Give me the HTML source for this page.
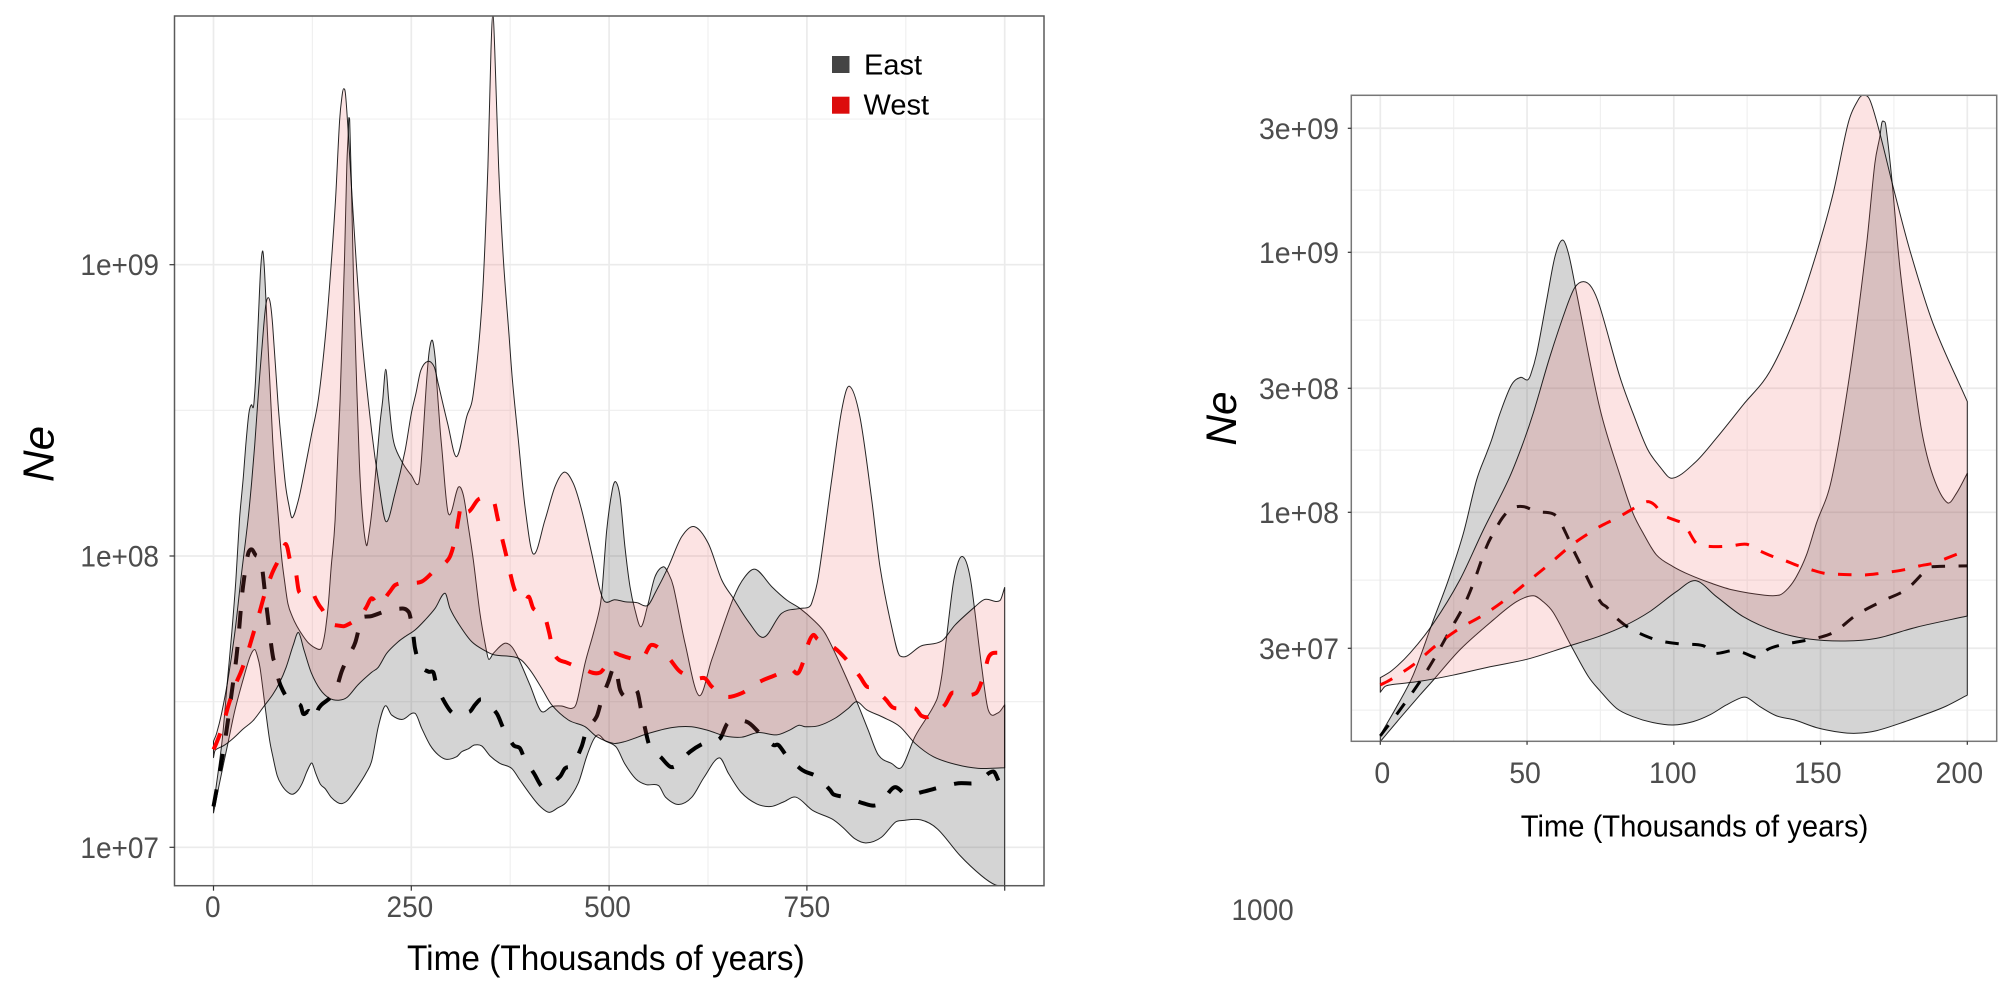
<!DOCTYPE html>
<html lang="en">
<head>
<meta charset="utf-8">
<title>Effective population size over time, East and West</title>
<style>
html,body{margin:0;padding:0;background:#fff;width:2008px;height:997px;overflow:hidden}
svg{display:block;font-family:"Liberation Sans",Arial,sans-serif}
</style>
</head>
<body>
<svg id="chart" width="2008" height="997" viewBox="0 0 2008 997" xmlns="http://www.w3.org/2000/svg">
<rect x="0" y="0" width="2008" height="997" fill="#fff"/>
<text transform="translate(1231.5,920) scale(1,1.05)" font-size="28" fill="#4d4d4d">1000</text>
</svg>
<script>
// Every pair is [time in thousands of years, log10(Ne)].
const eastUpper = [[0,7.144],[5.6,7.253],[11.2,7.374],[18.1,7.586],[23.2,7.74],[28.3,7.919],[32.8,8.124],[36.2,8.227],[37.9,8.278],[40.8,8.381],[44.7,8.49],[47.8,8.519],[50.1,8.509],[51.2,8.528],[53.3,8.612],[56.7,8.817],[59.5,8.983],[62,9.047],[64.1,8.996],[66.9,8.842],[74.8,8.4],[82.2,8.124],[86.1,7.996],[89.6,7.919],[94.1,7.836],[99.8,7.791],[105.5,7.759],[112.8,7.727],[120.2,7.701],[130.4,7.682],[136.1,7.682],[139,7.708],[141.8,7.753],[145.2,7.836],[148.6,7.958],[153.7,8.124],[160,8.535],[165.6,9.022],[168.5,9.342],[170.2,9.445],[170.9,9.499],[171.6,9.503],[172.2,9.49],[174.2,9.291],[177,8.945],[180.4,8.637],[184.4,8.317],[188.4,8.137],[193.2,8.037],[196.3,8.073],[200,8.15],[204.1,8.261],[210.4,8.455],[213.8,8.534],[217.7,8.641],[221.5,8.534],[225.9,8.42],[230,8.37],[240,8.315],[250,8.277],[258.9,8.247],[262.5,8.32],[269.4,8.604],[272.8,8.706],[276.7,8.74],[280.5,8.672],[282,8.6],[286.3,8.44],[288.4,8.375],[296.8,8.146],[309.4,8.236],[315.8,8.209],[322.1,8.101],[328.4,7.986],[336.8,7.803],[345.2,7.672],[348,7.645],[353.7,7.666],[367.6,7.7],[376.8,7.689],[385.3,7.649],[400,7.557],[413.9,7.468],[427.4,7.483],[440,7.485],[452.7,7.477],[459,7.497],[469.6,7.632],[480.2,7.735],[488.5,7.826],[491.5,7.895],[497,8.089],[504,8.227],[508.3,8.255],[513.8,8.204],[520,8.032],[526.4,7.895],[532.7,7.815],[540.3,7.757],[548.7,7.83],[558,7.929],[568.6,7.963],[574.9,7.941],[581.3,7.895],[596,7.7],[613.6,7.521],[629.6,7.643],[657,7.855],[671.7,7.929],[685.3,7.954],[705.5,7.895],[724.4,7.849],[741.3,7.82],[760.3,7.775],[772.9,7.735],[789.7,7.643],[813,7.5],[827.4,7.403],[840.3,7.317],[857,7.288],[869.8,7.275],[886.6,7.38],[914,7.506],[920.3,7.586],[926.6,7.723],[935,7.906],[941.4,7.981],[946.9,7.998],[952.7,7.969],[958.2,7.895],[970.9,7.62],[979.3,7.471],[991.9,7.462],[1000,7.489]];
const eastLower = [[0,7.118],[6.7,7.208],[13.5,7.297],[18.1,7.355],[27.1,7.471],[38.5,7.586],[46.4,7.656],[52.1,7.679],[55.5,7.656],[58.9,7.615],[65.2,7.483],[70.9,7.368],[74.8,7.314],[80.5,7.246],[86.1,7.214],[93,7.191],[99.8,7.182],[106.6,7.195],[112.3,7.221],[117.9,7.259],[123,7.287],[125,7.287],[129.3,7.253],[135,7.217],[141.2,7.201],[148.6,7.172],[156.6,7.154],[162.2,7.15],[169,7.16],[177,7.188],[186.7,7.227],[192.9,7.255],[200,7.297],[208.3,7.414],[216.8,7.485],[225.2,7.454],[238.7,7.439],[254.7,7.46],[263.1,7.409],[273.7,7.351],[284.2,7.317],[294.7,7.302],[307.3,7.311],[313.7,7.328],[322.1,7.338],[329.7,7.351],[339,7.348],[349.5,7.314],[362.1,7.288],[376.8,7.271],[387.3,7.231],[402.4,7.174],[413,7.14],[424.2,7.12],[435,7.135],[446,7.155],[461,7.22],[471.6,7.311],[480.2,7.369],[486.5,7.386],[494.8,7.366],[509,7.344],[520,7.286],[533.7,7.235],[547,7.215],[562.5,7.212],[571.4,7.172],[587.8,7.147],[604.6,7.172],[620,7.24],[639.2,7.307],[651.2,7.252],[666.7,7.189],[686.6,7.149],[704.4,7.14],[720,7.155],[736.3,7.172],[757.6,7.126],[782,7.097],[795.2,7.069],[810.8,7.029],[825.4,7.015],[844,7.034],[861.7,7.086],[870.6,7.092],[894,7.094],[915,7.063],[943.8,6.971],[970.4,6.903],[988,6.871],[1000,6.868]];
const eastMean = [[0,7.14],[6.7,7.24],[13.5,7.349],[18.1,7.432],[23.2,7.535],[28.3,7.637],[31.7,7.727],[36.2,7.868],[39.1,7.932],[41.9,7.983],[44.7,8.015],[48.7,8.022],[53.3,8.003],[58.4,7.996],[60.6,7.977],[63.5,7.913],[65.8,7.855],[69.2,7.778],[72.6,7.701],[75.4,7.65],[77,7.637],[79.9,7.599],[85,7.554],[94.1,7.509],[102,7.494],[110,7.487],[113.4,7.458],[120.2,7.468],[123.6,7.46],[128.7,7.442],[132.1,7.473],[136.7,7.49],[142.9,7.503],[149.7,7.519],[154.9,7.541],[162.2,7.605],[171.3,7.66],[179.3,7.704],[186.7,7.785],[188.9,7.791],[200,7.794],[219,7.812],[233,7.819],[246.7,7.808],[251.5,7.75],[254.7,7.683],[261,7.626],[271.5,7.603],[278,7.6],[280.8,7.569],[290.5,7.506],[303,7.46],[324,7.466],[330.5,7.489],[338.9,7.508],[357.9,7.46],[366.3,7.409],[379,7.351],[387.3,7.34],[392.9,7.306],[405,7.254],[416.9,7.206],[438,7.243],[444.3,7.271],[454,7.283],[465.3,7.346],[471.6,7.403],[484.3,7.449],[490.6,7.506],[499,7.568],[507.5,7.62],[514,7.54],[522.2,7.517],[528.5,7.54],[535.7,7.534],[540.3,7.474],[545.4,7.409],[550.9,7.351],[566.5,7.306],[577,7.277],[584.2,7.28],[602.3,7.328],[621.2,7.359],[640.2,7.374],[650,7.426],[673.9,7.431],[690.8,7.391],[707.6,7.351],[714,7.351],[724.4,7.314],[741.3,7.271],[747.6,7.26],[762.3,7.243],[779.2,7.197],[783.4,7.182],[798,7.172],[821.4,7.151],[834,7.143],[843.7,7.153],[860.5,7.206],[876.2,7.18],[897.2,7.191],[918.4,7.206],[941.6,7.22],[964.7,7.222],[985.6,7.26],[994.1,7.22],[1000,7.22]];
const westUpper = [[0,7.364],[3.9,7.391],[10.1,7.458],[18.1,7.573],[27.1,7.74],[35.1,7.932],[43.6,8.124],[48.2,8.253],[52.1,8.381],[57.8,8.599],[63.5,8.791],[66.3,8.865],[69.2,8.887],[72,8.865],[74.8,8.791],[81.6,8.522],[86.1,8.381],[91,8.244],[95.2,8.176],[99.4,8.131],[107.2,8.191],[114.5,8.285],[123.6,8.413],[132.7,8.541],[141.8,8.765],[148.6,8.996],[154.3,9.227],[159.4,9.496],[162.8,9.586],[164.5,9.604],[166.8,9.586],[170.2,9.458],[174.7,9.253],[180.4,9.009],[188.3,8.727],[200,8.426],[209,8.248],[218,8.118],[229.4,8.215],[242,8.36],[250,8.489],[256,8.56],[262,8.637],[270.9,8.668],[279,8.649],[284,8.592],[296,8.454],[307.3,8.341],[320,8.478],[328.4,8.558],[339.6,8.878],[346.8,9.335],[350.7,9.736],[353.1,9.86],[355.5,9.736],[360.4,9.335],[366.2,9.026],[373.4,8.763],[377.8,8.604],[385.3,8.398],[393.7,8.169],[404.2,8.007],[419,8.124],[431.6,8.238],[443.4,8.288],[454.8,8.249],[465.3,8.158],[478,8.009],[488.5,7.883],[494.8,7.843],[507,7.85],[520,7.843],[535,7.84],[548.7,7.83],[558,7.872],[574.9,7.963],[591.7,8.066],[607.7,8.101],[625.4,8.043],[642.3,7.918],[657,7.855],[676,7.775],[695.4,7.721],[718,7.803],[741.3,7.82],[751.8,7.824],[756,7.838],[764.5,7.929],[781.3,8.261],[794,8.501],[803.6,8.583],[817,8.478],[832,8.192],[842.4,7.963],[857.1,7.757],[867.7,7.657],[895,7.692],[920.3,7.708],[937.2,7.763],[962.5,7.826],[975,7.851],[994,7.847],[1000,7.892]];
const westLower = [[0,7.308],[1.6,7.33],[3.9,7.337],[13.5,7.35],[24.9,7.374],[37.4,7.406],[50.1,7.435],[63.5,7.483],[74.8,7.524],[83.3,7.564],[91.8,7.618],[100.9,7.695],[107.4,7.737],[114.5,7.676],[123.6,7.599],[135,7.541],[146.3,7.512],[158.3,7.505],[169,7.515],[182.7,7.558],[200,7.601],[208.3,7.618],[218.9,7.666],[233.6,7.706],[242,7.723],[254.7,7.746],[267.3,7.78],[280,7.82],[292.6,7.872],[298.9,7.82],[309.4,7.769],[326.3,7.706],[345.2,7.672],[355.8,7.66],[385.3,7.649],[400,7.609],[414.8,7.546],[427.4,7.489],[448.5,7.437],[469.6,7.414],[484.3,7.38],[505.4,7.357],[520,7.363],[549.6,7.391],[579,7.411],[604.3,7.414],[625.4,7.401],[646.5,7.382],[667.5,7.378],[688.7,7.394],[711.8,7.386],[728.7,7.403],[740,7.419],[747.6,7.414],[764.5,7.417],[785.6,7.443],[802.4,7.477],[813,7.5],[825.6,7.472],[846.6,7.446],[867.7,7.414],[886.6,7.357],[909.8,7.311],[937.2,7.285],[966.6,7.271],[1000,7.273]];
const westMean = [[0,7.336],[3.3,7.355],[11.2,7.413],[19.2,7.49],[27.1,7.554],[35.1,7.605],[42.5,7.663],[49.9,7.73],[57.2,7.797],[65.2,7.874],[73.7,7.938],[77,7.958],[80.5,7.977],[89,8.032],[91.3,8.041],[93.5,8.028],[96.4,7.99],[100.9,7.968],[103,7.958],[104.5,7.938],[107.2,7.887],[108.9,7.874],[113.4,7.868],[119.6,7.871],[124.8,7.877],[128.7,7.855],[133.3,7.832],[137.3,7.817],[142.4,7.794],[146.3,7.781],[151.4,7.765],[155.4,7.762],[160.5,7.76],[165.1,7.759],[170.2,7.765],[174.7,7.772],[179.3,7.781],[183.8,7.794],[188.4,7.804],[192.9,7.823],[200,7.855],[208.3,7.832],[223,7.878],[229.4,7.9],[240.8,7.908],[263,7.912],[280.7,7.954],[297.7,7.992],[305.2,8.055],[309.4,8.124],[313.6,8.178],[322.1,8.152],[335.6,8.196],[353.7,8.19],[359.2,8.129],[364.3,8.066],[369.9,8.003],[375,7.941],[381.1,7.881],[393.7,7.843],[398.7,7.86],[404.2,7.82],[417.7,7.798],[424,7.74],[429.5,7.672],[435.9,7.645],[445.5,7.635],[465.3,7.614],[488.5,7.6],[505.4,7.664],[513.8,7.66],[524.3,7.651],[541.2,7.645],[553.8,7.695],[574.9,7.651],[589.7,7.603],[611.5,7.58],[621.2,7.58],[629.6,7.552],[646.5,7.517],[667.5,7.529],[687.8,7.565],[707.6,7.588],[730,7.611],[738.3,7.597],[744.3,7.629],[751.8,7.7],[758,7.729],[763.6,7.714],[785.5,7.683],[802.4,7.637],[817,7.586],[825.6,7.552],[833,7.549],[849.5,7.508],[858,7.481],[867.7,7.477],[886.6,7.477],[895,7.451],[904.8,7.449],[924.5,7.489],[932.9,7.529],[939.1,7.529],[963.6,7.529],[973,7.586],[980.1,7.655],[991.8,7.668],[1000,7.66]];

const leftXTicks = [0, 250, 500, 750, 1000];
const leftXLabels = ['0', '250', '500', '750', ''];
const leftXMinor = [125, 375, 625, 875];
const leftYTicks = [7, 8, 9];
const leftYLabels = ['1e+07', '1e+08', '1e+09'];
const leftYMinor = [7.5, 8.5, 9.5];

const rightXTicks = [0, 50, 100, 150, 200];
const rightXLabels = ['0', '50', '100', '150', '200'];
const rightXMinor = [25, 75, 125, 175];
const rightYTicks = [7.477, 8, 8.477, 9, 9.477];
const rightYLabels = ['3e+07', '1e+08', '3e+08', '1e+09', '3e+09'];
const rightYMinor = [7.239, 7.739, 8.239, 8.739, 9.239];

const legendLabels = ['East', 'West'];

const SVG_NS = 'http://www.w3.org/2000/svg';
const root = document.getElementById('chart');

function mk(tag, attrs, parent) {
  const el = document.createElementNS(SVG_NS, tag);
  for (const k in attrs) el.setAttribute(k, attrs[k]);
  (parent || root).appendChild(el);
  return el;
}

function spline(pts) {
  let d = 'L' + pts[0][0].toFixed(2) + ' ' + pts[0][1].toFixed(2);
  const slope = pts.map((p, i) => {
    const a = pts[Math.max(i - 1, 0)];
    const b = pts[Math.min(i + 1, pts.length - 1)];
    return (b[1] - a[1]) / (b[0] - a[0]);
  });
  for (let i = 0; i < pts.length - 1; i++) {
    const p = pts[i], q = pts[i + 1], dx = (q[0] - p[0]) / 3;
    d += 'C' + (p[0] + dx).toFixed(2) + ' ' + (p[1] + slope[i] * dx).toFixed(2) + ' ' +
         (q[0] - dx).toFixed(2) + ' ' + (q[1] - slope[i + 1] * dx).toFixed(2) + ' ' +
         q[0].toFixed(2) + ' ' + q[1].toFixed(2);
  }
  return d;
}

function drawPanel(o) {
  const sx = t => o.x0 + t * o.xPerUnit;
  const sy = v => o.y8 - (v - 8) * o.yPerDecade;
  const project = series => series.filter(p => p[0] <= o.tMax).map(p => [sx(p[0]), sy(p[1])]);
  const stretch = (x, y) => 'translate(' + x + ',' + y + ') scale(1,1.05)';

  const g = mk('g', {});
  
  

  const clipId = o.name + '-clip';
  const defs = mk('defs', {}, g);
  const clip = mk('clipPath', { id: clipId }, defs);
  mk('rect', { x: o.left, y: o.top, width: o.right - o.left, height: o.bottom - o.top }, clip);

  o.yMinor.forEach(v => {
    const l = mk('line', { x1: o.left, x2: o.right, y1: sy(v), y2: sy(v), stroke: '#f0f0f0', 'stroke-width': 1.2 }, g);
    
    
  });
  o.xMinor.forEach(t => {
    const l = mk('line', { x1: sx(t), x2: sx(t), y1: o.top, y2: o.bottom, stroke: '#f0f0f0', 'stroke-width': 1.2 }, g);
    
    
  });
  o.yTicks.forEach(v => {
    const l = mk('line', { x1: o.left, x2: o.right, y1: sy(v), y2: sy(v), stroke: '#ebebeb', 'stroke-width': 1.7 }, g);
    
    
  });
  o.xTicks.forEach(t => {
    const l = mk('line', { x1: sx(t), x2: sx(t), y1: o.top, y2: o.bottom, stroke: '#ebebeb', 'stroke-width': 1.7 }, g);
    
    
  });

  const plot = mk('g', { 'clip-path': 'url(#' + clipId + ')' }, g);
  
  

  function ribbon(upper, lower, fill, name) {
    const up = project(upper);
    const lo = project(lower).reverse();
    const d = 'M' + spline(up).slice(1) + spline(lo) + 'Z';
    const r = mk('path', { d: d, fill: fill, stroke: '#000', 'stroke-width': 1, 'stroke-opacity': 0.85, 'stroke-linejoin': 'round' }, plot);
    
    
  }
  function meanLine(series, color, name) {
    const d = 'M' + spline(project(series)).slice(1);
    const m = mk('path', { d: d, fill: 'none', stroke: color, 'stroke-width': o.meanWidth, 'stroke-dasharray': o.dash }, plot);
    
    
  }
  ribbon(eastUpper, eastLower, 'rgba(60,60,60,0.22)', 'east-confidence-ribbon');
  meanLine(eastMean, '#000', 'east-median-line');
  ribbon(westUpper, westLower, 'rgba(240,90,90,0.17)', 'west-confidence-ribbon');
  meanLine(westMean, '#ff0000', 'west-median-line');

  const frame = mk('rect', { x: o.left, y: o.top, width: o.right - o.left, height: o.bottom - o.top, fill: 'none', stroke: o.frameColor, 'stroke-width': 1.5 }, g);
  
  

  o.xTicks.forEach((t, i) => {
    const tick = mk('line', { x1: sx(t), x2: sx(t), y1: o.bottom, y2: o.bottom + o.tickLen, stroke: '#333', 'stroke-width': 1.2 }, g);
    
    
    if (!o.xLabels[i]) return;
    const label = mk('text', { transform: stretch(sx(t) + o.xLabelShift[i], o.xLabelY), 'text-anchor': 'middle', 'font-size': o.tickFont, fill: '#4d4d4d' }, g);
    label.textContent = o.xLabels[i];
    
    
  });
  o.yTicks.forEach((v, i) => {
    const tick = mk('line', { x1: o.left - o.tickLen, x2: o.left, y1: sy(v), y2: sy(v), stroke: '#333', 'stroke-width': 1.2 }, g);
    
    
    const label = mk('text', { transform: stretch(o.yLabelX, sy(v) + 10.5), 'text-anchor': 'end', 'font-size': o.tickFont, fill: '#4d4d4d' }, g);
    label.textContent = o.yLabels[i];
    
    
  });

  const xTitle = mk('text', { transform: stretch(o.xTitleX, o.xTitleY), 'font-size': o.xTitleFont, fill: '#000' }, g);
  xTitle.textContent = 'Time (Thousands of years)';
  
  

  const yTitle = mk('text', { transform: 'translate(' + o.yTitleX + ',' + o.yTitleY + ') rotate(-90)', 'text-anchor': 'middle', 'font-size': o.yTitleFont, 'font-style': 'italic', fill: '#000' }, g);
  yTitle.textContent = 'Ne';
  
  
}

drawPanel({
  name: 'full-range', left: 174.5, right: 1044, top: 16, bottom: 885.7,
  x0: 213.5, xPerUnit: 0.7912, y8: 556, yPerDecade: 291.3, tMax: 1000,
  xTicks: leftXTicks, xLabels: leftXLabels, xMinor: leftXMinor, xLabelShift: [-0.7, -1.4, -1.6, 0, 0],
  yTicks: leftYTicks, yLabels: leftYLabels, yMinor: leftYMinor,
  meanWidth: 4, dash: '17.5 18.5', frameColor: '#5a5a5a', tickLen: 5, tickFont: 28,
  xLabelY: 917, yLabelX: 159, xTitleX: 407, xTitleY: 970, xTitleFont: 33.4,
  yTitleX: 53.5, yTitleY: 454, yTitleFont: 44
});

drawPanel({
  name: 'recent-range', left: 1351.3, right: 1996.7, top: 95.3, bottom: 741.3,
  x0: 1380.3, xPerUnit: 2.935, y8: 512.3, yPerDecade: 260, tMax: 200,
  xTicks: rightXTicks, xLabels: rightXLabels, xMinor: rightXMinor, xLabelShift: [2, -2, -1, -2.7, -8],
  yTicks: rightYTicks, yLabels: rightYLabels, yMinor: rightYMinor,
  meanWidth: 3, dash: '13.5 13.5', frameColor: '#777', tickLen: 3.5, tickFont: 28.5,
  xLabelY: 783, yLabelX: 1339, xTitleX: 1520.7, xTitleY: 836.7, xTitleFont: 29.2,
  yTitleX: 1236, yTitleY: 418.5, yTitleFont: 42.5
});

const legend = mk('g', {});


const swatchEast = mk('rect', { x: 832, y: 56, width: 17.5, height: 17, fill: '#444444' }, legend);


const swatchWest = mk('rect', { x: 832, y: 96.7, width: 17.5, height: 17, fill: '#dc0c0c' }, legend);


const labelEast = mk('text', { x: 864, y: 74.5, 'font-size': 29, fill: '#000' }, legend);
labelEast.textContent = legendLabels[0];


const labelWest = mk('text', { x: 863.5, y: 114.5, 'font-size': 29, fill: '#000' }, legend);
labelWest.textContent = legendLabels[1];


</script>
</body>
</html>
